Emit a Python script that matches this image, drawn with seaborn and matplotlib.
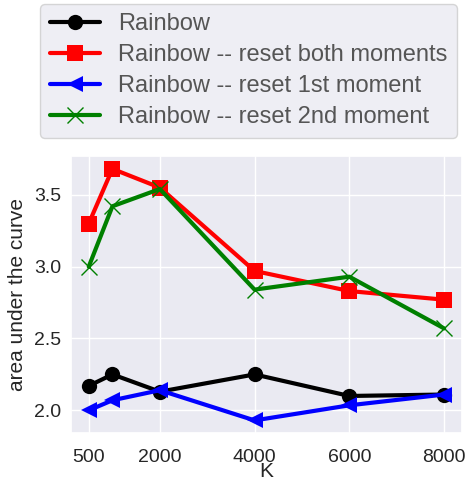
import matplotlib
matplotlib.use("Agg")
import matplotlib.pyplot as plt
import seaborn as sns
import pandas as pd

# K values on the x axis
k_values = [500, 1000, 2000, 4000, 6000, 8000]
x_ticks = [500, 2000, 4000, 6000, 8000]

# area under the curve for each variant
rainbow = [2.17, 2.25, 2.13, 2.25, 2.10, 2.11]
reset_both = [3.30, 3.68, 3.55, 2.97, 2.83, 2.77]
reset_first = [2.00, 2.07, 2.14, 1.93, 2.035, 2.11]
reset_second = [3.00, 3.42, 3.54, 2.84, 2.93, 2.57]

labels = [
    "Rainbow",
    "Rainbow -- reset both moments",
    "Rainbow -- reset 1st moment",
    "Rainbow -- reset 2nd moment",
]
series = [rainbow, reset_both, reset_first, reset_second]
colors = ["black", "red", "blue", "green"]
markers = ["o", "s", "<", "x"]

sns.set_theme(style="darkgrid")
plt.rcParams["font.family"] = ["Liberation Sans", "DejaVu Sans"]

fig = plt.figure(figsize=(4.67, 4.82), dpi=100)
ax = fig.add_axes([0.152, 0.1017, 0.837, 0.574])

for lab, vals, col, mk in zip(labels, series, colors, markers):
    df = pd.DataFrame({"K": k_values, "auc": vals})
    sns.lineplot(
        data=df, x="K", y="auc", ax=ax, color=col, marker=mk, label=lab,
        linewidth=3.0, markersize=11 if mk != "x" else 12,
        markeredgewidth=0 if mk != "x" else 1.0,
        markeredgecolor=col,
    )

ax.set_xticks(x_ticks)
ax.set_yticks([2.0, 2.5, 3.0, 3.5])
ax.tick_params(axis="x", length=0, labelsize=14, colors="#262626", pad=11.5)
ax.tick_params(axis="y", length=0, labelsize=14, colors="#262626", pad=7.0)
ax.set_xlabel("K", fontsize=15, labelpad=-2.5)
ax.set_ylabel("area under the curve", fontsize=15, labelpad=5)

handles, labs = ax.get_legend_handles_labels()
ax.get_legend().remove()
leg = fig.legend(
    handles, labs, loc="upper left", bbox_to_anchor=(0.086, 0.992),
    borderaxespad=0, fontsize=17, frameon=True, borderpad=0.4,
    labelspacing=0.38, handlelength=2.15, handletextpad=0.75,
)
for t in leg.get_texts():
    t.set_color("#555555")

fig.savefig("out.png", dpi=100)
